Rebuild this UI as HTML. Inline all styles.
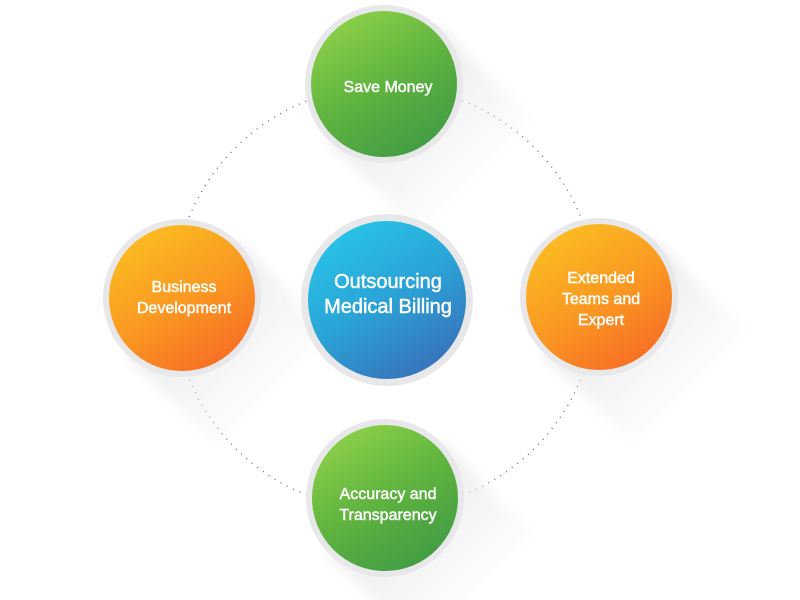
<!DOCTYPE html>
<html style="overflow:hidden"><head><style>
html,body{margin:0;background:#fff;width:800px;height:600px;overflow:hidden}
svg{display:block}
text{font-family:"Liberation Sans",sans-serif;fill:#fff;text-anchor:middle;stroke:#fff;stroke-width:0.45}
</style></head><body>
<svg width="800" height="600" viewBox="0 0 800 600">
<defs>
<linearGradient id="sh" x1="0" y1="0" x2="1" y2="1"><stop offset="0.3" stop-color="#e2e2e2"/><stop offset="1" stop-color="#fff" stop-opacity="0"/></linearGradient>
<linearGradient id="g" x1="0.2" y1="0" x2="0.8" y2="1"><stop offset="0" stop-color="#8fd24a"/><stop offset="0.5" stop-color="#5fb33f"/><stop offset="1" stop-color="#3f9a45"/></linearGradient>
<linearGradient id="o" x1="0.2" y1="0" x2="0.8" y2="1"><stop offset="0" stop-color="#fbbf22"/><stop offset="0.5" stop-color="#fa9a22"/><stop offset="1" stop-color="#f76a25"/></linearGradient>
<linearGradient id="b" x1="0.2" y1="0" x2="0.8" y2="1"><stop offset="0" stop-color="#27c6e8"/><stop offset="0.5" stop-color="#2ba2d6"/><stop offset="1" stop-color="#3a6db7"/></linearGradient>
<filter id="bl"><feGaussianBlur stdDeviation="7"/></filter>
<g id="shadow"><path d="M-56,56 L56,-56 L146,34 L34,146 Z" fill="url(#sh)" filter="url(#bl)" opacity="0.75"/></g>
</defs>
<circle cx="385" cy="298" r="212" fill="none" stroke="#666" stroke-width="1.3" stroke-dasharray="1 6"/>
<use href="#shadow" x="384" y="84"/>
<use href="#shadow" x="182" y="298"/>
<use href="#shadow" x="599" y="297"/>
<use href="#shadow" x="385" y="498"/>
<g>
<circle cx="384" cy="84" r="79" fill="#e8e8ea"/><circle cx="384" cy="84" r="73" fill="url(#g)"/>
<text x="388" y="92" font-size="16">Save Money</text>
</g>
<g>
<circle cx="182" cy="298" r="79" fill="#e8e8ea"/><circle cx="182" cy="298" r="73" fill="url(#o)"/>
<text x="184" y="292" font-size="16">Business</text><text x="184" y="313" font-size="16">Development</text>
</g>
<g>
<circle cx="599" cy="297" r="79" fill="#e8e8ea"/><circle cx="599" cy="297" r="73" fill="url(#o)"/>
<text x="601" y="283" font-size="16">Extended</text><text x="601" y="304" font-size="16">Teams and</text><text x="601" y="325" font-size="16">Expert</text>
</g>
<g>
<circle cx="385" cy="498" r="79" fill="#e8e8ea"/><circle cx="385" cy="498" r="73" fill="url(#g)"/>
<text x="388" y="499" font-size="16">Accuracy and</text><text x="388" y="520" font-size="16">Transparency</text>
</g>
<g>
<circle cx="387" cy="300" r="86" fill="#e8e8ea"/><circle cx="387" cy="300" r="79" fill="url(#b)"/>
<text x="388" y="288" font-size="20">Outsourcing</text><text x="388" y="313" font-size="20">Medical Billing</text>
</g>
</svg>
</body></html>
